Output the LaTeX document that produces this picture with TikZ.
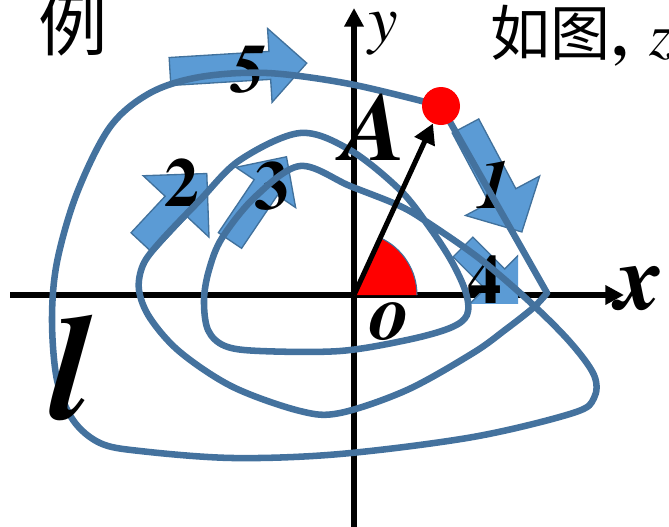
\documentclass[tikz,border=0pt]{standalone}
\usepackage{fontspec}
\IfFontExistsTF{texgyretermes-regular.otf}{%
  \setmainfont{texgyretermes}[Extension=.otf,UprightFont=*-regular,BoldFont=*-bold,ItalicFont=*-italic,BoldItalicFont=*-bolditalic]}{%
  \setmainfont{Latin Modern Roman}}
\newfontfamily\cjk{Noto Sans CJK SC}
\usetikzlibrary{arrows.meta,calc}
\definecolor{curveblue}{RGB}{68,114,158}
\definecolor{arrfill}{RGB}{91,155,213}
\definecolor{arredge}{RGB}{65,113,156}
\newcommand{\blkarrow}[6]{%
  \begin{scope}[shift={#1},rotate=#2]
    \pgfmathsetmacro\blkls{#3-#4}
    \filldraw[blockarrow] (0,-#5) -- (\blkls,-#5) -- (\blkls,-#6) -- (#3,0) -- (\blkls,#6) -- (\blkls,#5) -- (0,#5) -- cycle;
  \end{scope}}
\begin{document}
\begin{tikzpicture}[x=0.75pt,y=-0.75pt,
  blockarrow/.style={fill=arrfill,draw=arredge,line width=1pt,line join=miter},
  curve/.style={draw=curveblue,line width=4.9pt,line join=round,line cap=round},
  axis/.style={line width=4pt,-{Triangle[length=14pt,width=14pt]}},
  num/.style={inner sep=0pt,font=\fontsize{52}{52}\selectfont\bfseries},
  numit/.style={inner sep=0pt,font=\fontsize{52}{52}\selectfont\bfseries\itshape},
  lbl/.style={inner sep=0pt,font=\bfseries\itshape}]
\useasboundingbox (0,0) rectangle (669,526);
% axes
\coordinate (O) at (354,295);
\coordinate (xs) at (10,295);
\coordinate (xe) at (624,295);
\coordinate (ys) at (354,530);
\coordinate (ye) at (354,8);
\coordinate (Ar) at (417,295);
\draw[axis] (xs) -- (xe);
\draw[axis] (ys) -- (ye);
% angle sector
\fill[red] (O) -- (Ar) arc[start angle=0,end angle=-65.6,radius=63] -- cycle;
\draw[arredge,line width=0.8pt] (Ar) arc[start angle=0,end angle=-65.6,radius=63];
% block arrows
\blkarrow{(465.5,126)}{-62}{120}{41}{15}{42}
\blkarrow{(142,243)}{47}{95}{45}{15}{45}
\blkarrow{(230,240.5)}{56}{101}{37}{14}{36}
\begin{scope}
  \clip (0,0) rectangle (518,303);
  \blkarrow{(463,247)}{-45}{85}{40}{14}{44}
\end{scope}
\blkarrow{(170,71.5)}{3.5}{137}{37}{14}{37}
% number labels
\node[numit] (n1) at (494,185) {1};
\node[num] (n2) at (182,183) {2};
\node[num] (n3) at (272,186) {3};
\node[num] (n4) at (485,280) {4};
\node[numit] (n5) at (249,70) {5};
% the curve l
\coordinate (D) at (441,106);
\coordinate (C) at (547,293);
\draw[curve] (D) -- (C) -- plot[smooth,tension=0.55] coordinates {
 (547,293) (533,308) (505,330) (473,353) (407,390) (340,413) (300,411)
 (233,387) (180,352) (150,318) (139,290) (143,265) (160,242) (200,200)
 (240,160) (300,133) (350,150) (400,190) (430,228) (452,262) (466,293)
 (467,315) (450,328) (407,340) (340,351) (260,351) (225,346) (208,330)
 (204,300) (209,270) (222,238) (255,197) (300,166) (350,186) (400,206)
 (430,224) (480,259) (530,302) (570,342) (594,375) (594,398) (573,413)
 (473,437) (340,454) (233,458) (140,451) (100,443) (73,420) (57,380)
 (52,320) (57,262) (77,193) (110,127) (150,93) (200,77) (267,73)
 (350,84) (441,106)};
% point A
\node[circle,fill=red,inner sep=0pt,minimum size=28.5pt] (A) at (D) {};
\draw[line width=3.8pt,-{Triangle[length=15pt,width=16pt]}] (O) -- (A);
% letters
\node[lbl,font=\fontsize{73}{73}\selectfont\bfseries\itshape] (lA) at (375,127) {A};
\node[lbl,font=\fontsize{70}{70}\selectfont\bfseries\itshape] (lx) at (640,289) {x};
\node[inner sep=0pt,font=\fontsize{50}{50}\selectfont\itshape] (ly) at (383,34) {y};
\node[lbl,font=\fontsize{60}{60}\selectfont\bfseries\itshape] (lo) at (390,322) {o};
\node[lbl,font=\fontsize{112}{112}\selectfont\bfseries\itshape] (ll) at (70,368) {l};
\node[inner sep=0pt,font=\fontsize{52}{52}\selectfont\cjk] (ex) at (73,24) {例};
\node[inner sep=0pt,anchor=west,font=\fontsize{45}{45}\selectfont] (tx) at (490,36) {{\cjk 如图}\hspace{2pt}\textbf{,}\hspace{16pt}\textit{z}};
\end{tikzpicture}
\end{document}
